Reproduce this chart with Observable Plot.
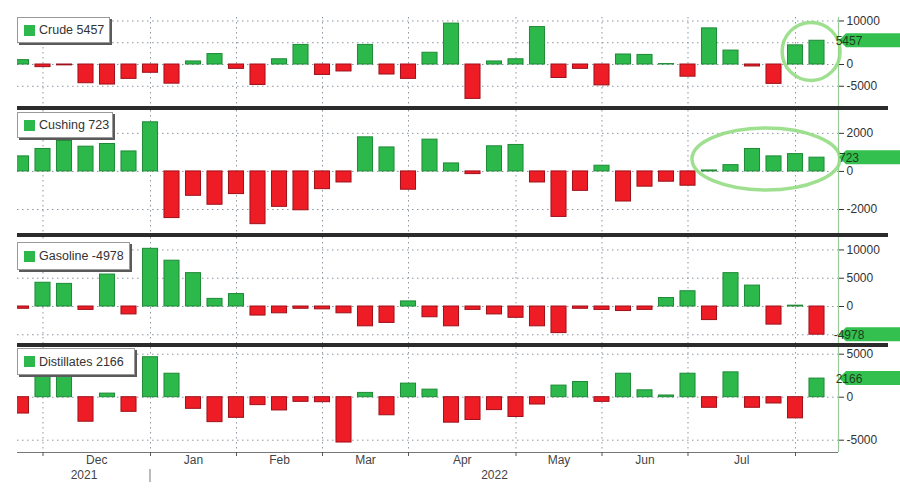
<!DOCTYPE html>
<html>
<head>
<meta charset="utf-8">
<script src="https://cdn.jsdelivr.net/npm/d3@7"></script>
<script src="https://cdn.jsdelivr.net/npm/@observablehq/plot@0.6"></script>
<style>
  body { margin: 0; background: #fff; font-family: "Liberation Sans", Arial, sans-serif; }
  #wrap { position: relative; width: 900px; height: 492px; overflow: hidden; background: #fff; }
  .panel { position: absolute; left: 0; }
  .sep { position: absolute; left: 17px; width: 871px; height: 4px; background: #2b2b2b; }
  .legend { position: absolute; left: 17px; background: #fff; border: 1px solid #9a9a9a;
            box-shadow: 2px 2px 0 #5a5a5a; font-size: 12.5px; color: #333; display: flex;
            align-items: center; box-sizing: border-box; padding-left: 6px; white-space: nowrap; }
  .sw { width: 11px; height: 11px; background: #2db84b; margin-right: 4px; flex: none; }
</style>
</head>
<body>
<div id="wrap"></div>
<script>
// ---- Data (weekly changes, thousand barrels) ----
const weeks = ["2021-11-19","2021-11-26","2021-12-03","2021-12-10","2021-12-17","2021-12-24","2021-12-31",
  "2022-01-07","2022-01-14","2022-01-21","2022-01-28","2022-02-04","2022-02-11","2022-02-18","2022-02-25",
  "2022-03-04","2022-03-11","2022-03-18","2022-03-25","2022-04-01","2022-04-08","2022-04-15","2022-04-22",
  "2022-04-29","2022-05-06","2022-05-13","2022-05-20","2022-05-27","2022-06-03","2022-06-10","2022-06-17",
  "2022-06-24","2022-07-01","2022-07-08","2022-07-15","2022-07-22","2022-07-29","2022-08-05"];

const crude = [1000, -600, -200, -4300, -4600, -3300, -1900, -4400, 700, 2400, -1000, -4700, 1200, 4500,
  -2400, -1600, 4500, -2300, -3300, 2700, 9400, -7900, 700, 1200, 8600, -3100, -1000, -4800, 2300, 2200,
  100, -2800, 8300, 3200, -450, -4450, 4400, 5457];

const cushing = [790, 1180, 1600, 1300, 1440, 1050, 2580, -2450, -1280, -1750, -1190, -2770, -1860, -2040,
  -930, -580, 1790, 1260, -960, 1670, 420, -140, 1320, 1390, -580, -2390, -1020, 300, -1580, -800, -540,
  -750, 50, 330, 1180, 790, 910, 723];

const gasoline = [-400, 4200, 4000, -600, 5650, -1400, 10200, 8100, 5900, 1350, 2200, -1600, -1200, -400,
  -500, -1200, -3500, -2900, 900, -1900, -3500, -600, -1400, -2000, -3500, -4700, -400, -600, -800, -600,
  1500, 2700, -2400, 5900, 3700, -3200, 150, -4978];

const distillates = [-1900, 2600, 2800, -2850, 420, -1700, 4650, 2730, -1350, -2900, -2400, -920, -1540,
  -540, -580, -5270, 500, -2100, 1580, 880, -2960, -2650, -1500, -2300, -850, 1350, 1770, -540, 2730, 800,
  200, 2730, -1230, 2890, -1230, -730, -2460, 2166];

const seriesNames = ["Crude", "Cushing", "Gasoline", "Distillates"];
const seriesTicks = [[10000, 5000, 0, -5000], [2000, 0, -2000], [10000, 5000, 0, -5000], [5000, 0, -5000]];

// month boundaries (index of last week in each month) and labels
const monthGridIdx = [1, 6, 10, 14, 18, 23, 27, 31, 36];
const monthLabels = ["Dec", "Jan", "Feb", "Mar", "Apr", "May", "Jun", "Jul"];
const yearLabels = ["2021", "2022"];
const yearBreakIdx = 6;

// annotations (hand-drawn circles) : panel, week index, value
const annotations = [
  {panel: "Crude", i: 36.75, v: 2900, rx: 29, ry: 29},
  {panel: "Cushing", i: 34.65, v: 630, rx: 74, ry: 31}
];

// ---- Layout ----
const GREEN = "#2db84b", GREEN_D = "#1e8a36", RED = "#ee1c25", RED_D = "#9e101a";
const xDomain = [-0.186, 38.0];
const layout = [
  {top: 17,  height: 89,  domain: [-9650, 10800]},
  {top: 110, height: 123, domain: [-3260, 3200]},
  {top: 237, height: 106, domain: [-6540, 12200]},
  {top: 347, height: 105, domain: [-6430, 5780]}
];
const seriesValues = [crude, cushing, gasoline, distillates];
const wrap = document.getElementById("wrap");
const font = "Liberation Sans, Arial, sans-serif";

seriesNames.forEach((name, k) => {
  const values = seriesValues[k];
  const ticks = seriesTicks[k];
  const L = layout[k];
  const last = k === seriesNames.length - 1;
  const data = values.map((v, i) => ({i, v, date: weeks[i]}));
  const mb = last ? 40 : 0;
  const lv = values[values.length - 1];
  // tick labels hidden behind the last-value badge are not drawn
  const pxPerUnit = L.height / (L.domain[1] - L.domain[0]);
  const labelTicks = ticks.filter(t => Math.abs(t - lv) * pxPerUnit > 9);

  const marks = [
    Plot.ruleY(ticks, {stroke: "#8c96a0", strokeDasharray: "1.5,3.5"}),
    Plot.ruleX(monthGridIdx, {stroke: "#8c96a0", strokeDasharray: "1.5,3.5"}),
    Plot.rectY(data, {
      x1: d => d.i - 0.35, x2: d => d.i + 0.35, y1: 0, y2: "v",
      fill: d => d.v >= 0 ? GREEN : RED,
      stroke: d => d.v >= 0 ? GREEN_D : RED_D,
      strokeWidth: 1, clip: true
    }),
    Plot.ruleX([xDomain[1]], {stroke: "#9cc99c", strokeWidth: 1.2})
  ];
  if (last) {
    const mids = monthLabels.map((m, j) => ({x: (monthGridIdx[j] + monthGridIdx[j + 1]) / 2, m}));
    const years = [
      {x: (xDomain[0] + yearBreakIdx) / 2, t: yearLabels[0]},
      {x: (yearBreakIdx + xDomain[1]) / 2, t: yearLabels[1]}
    ];
    marks.push(
      Plot.ruleY([L.domain[0]], {stroke: "#777", strokeWidth: 1.2}),
      Plot.axisX({ticks: monthGridIdx, tickSize: 4, tickFormat: () => "", stroke: "#555", label: null}),
      Plot.text(mids, {x: "x", text: "m", frameAnchor: "bottom", dy: 11, fontSize: 12, fill: "#444"}),
      Plot.text(years, {x: "x", text: "t", frameAnchor: "bottom", dy: 26, fontSize: 12, fill: "#444"})
    );
  }

  const chart = Plot.plot({
    width: 900,
    height: L.height + mb,
    marginLeft: 17, marginRight: 62, marginTop: 0, marginBottom: mb,
    x: {type: "linear", domain: xDomain, axis: null},
    y: {domain: L.domain, axis: "right", ticks: labelTicks, tickSize: 5, tickPadding: 3,
        tickFormat: d => String(d), label: null},
    style: {fontFamily: font, fontSize: "12px", color: "#333", background: "transparent"},
    marks
  });

  const sx = chart.scale("x"), sy = chart.scale("y");
  const svg = d3.select(chart);
  svg.style("overflow", "visible");

  // hand-drawn style circles
  annotations.filter(a => a.panel === name).forEach(a => {
    svg.append("ellipse")
      .attr("cx", sx.apply(a.i)).attr("cy", sy.apply(a.v))
      .attr("rx", a.rx).attr("ry", a.ry)
      .attr("fill", "none").attr("stroke", "#8edb7c").attr("stroke-width", 3.5)
      .attr("opacity", 0.85);
  });

  // last-value badge on the right axis
  const bx = sx.apply(xDomain[1]) + 1, by = sy.apply(lv);
  const g = svg.append("g");
  g.append("path")
    .attr("d", `M${bx},${by} L${bx + 7},${by - 7} L${bx + 70},${by - 7} L${bx + 70},${by + 7} L${bx + 7},${by + 7} Z`)
    .attr("fill", "#34c04f");
  g.append("text").attr("x", bx + 10).attr("y", by + 4.5)
    .attr("font-family", font).attr("font-size", 12).attr("fill", "#1d3f20")
    .text(String(lv));

  if (last) {
    const xb = sx.apply(yearBreakIdx);
    svg.append("line").attr("x1", xb).attr("x2", xb)
      .attr("y1", L.height + 17).attr("y2", L.height + 30)
      .attr("stroke", "#777").attr("stroke-width", 1);
  }

  chart.classList.add("panel");
  chart.style.top = L.top + "px";
  wrap.appendChild(chart);
});

// separators
[106, 233, 343].forEach(t => {
  const d = document.createElement("div");
  d.className = "sep"; d.style.top = t + "px";
  wrap.appendChild(d);
});

// legends
const legendBoxes = [
  {top: 17, w: 93, h: 26}, {top: 112, w: 96, h: 26}, {top: 242, w: 113, h: 28}, {top: 348, w: 118, h: 27}
];
seriesNames.forEach((name, k) => {
  const b = legendBoxes[k];
  const vals = seriesValues[k];
  const d = document.createElement("div");
  d.className = "legend";
  d.style.top = b.top + "px"; d.style.width = b.w + "px"; d.style.height = b.h + "px";
  d.innerHTML = `<span class="sw"></span><span>${name} ${vals[vals.length - 1]}</span>`;
  wrap.appendChild(d);
});
</script>
</body>
</html>
